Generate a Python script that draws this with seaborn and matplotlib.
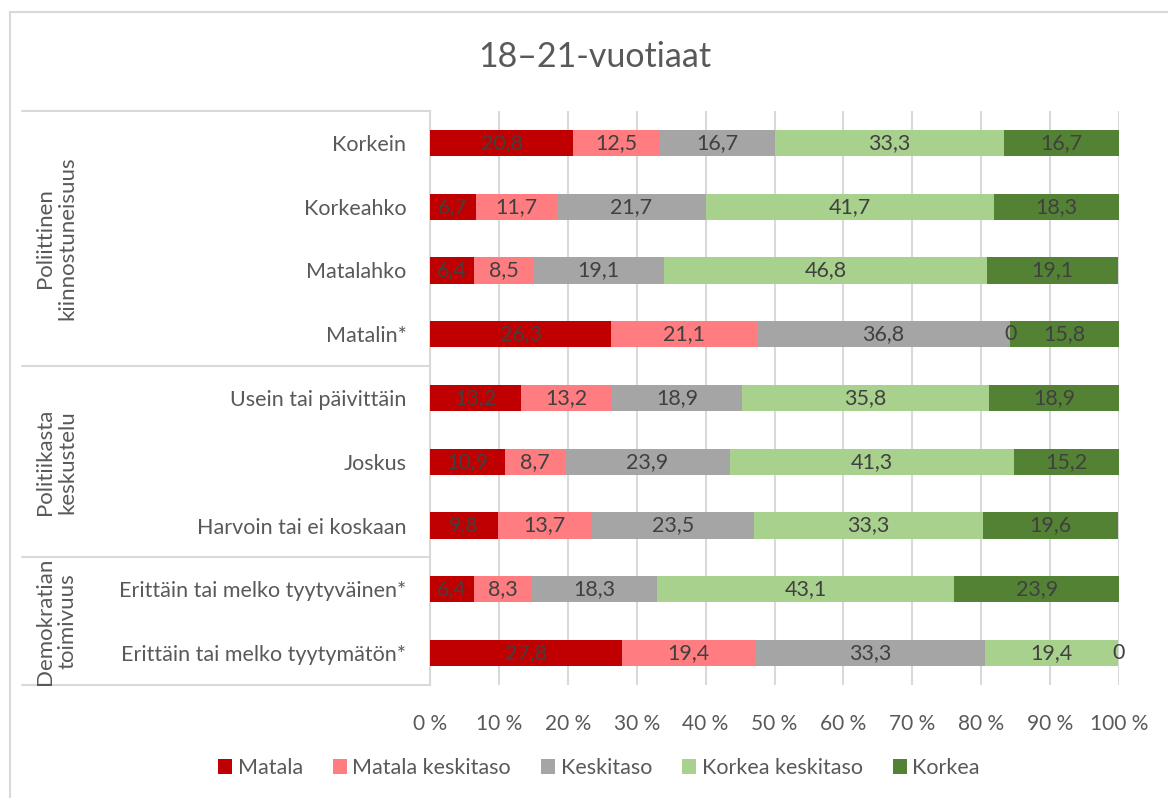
import matplotlib
matplotlib.use("Agg")
import matplotlib.pyplot as plt
from matplotlib.patches import Patch, Rectangle
import matplotlib.transforms as mtransforms
import seaborn as sns
import pandas as pd
import numpy as np

categories = [
    "Korkein", "Korkeahko", "Matalahko", "Matalin*",
    "Usein tai päivittäin", "Joskus", "Harvoin tai ei koskaan",
    "Erittäin tai melko tyytyväinen*", "Erittäin tai melko tyytymätön*",
]
series_names = ["Matala", "Matala keskitaso", "Keskitaso", "Korkea keskitaso", "Korkea"]
matala = [20.8, 6.7, 6.4, 26.3, 13.2, 10.9, 9.8, 6.4, 27.8]
matala_keskitaso = [12.5, 11.7, 8.5, 21.1, 13.2, 8.7, 13.7, 8.3, 19.4]
keskitaso = [16.7, 21.7, 19.1, 36.8, 18.9, 23.9, 23.5, 18.3, 33.3]
korkea_keskitaso = [33.3, 41.7, 46.8, 0, 35.8, 41.3, 33.3, 43.1, 19.4]
korkea = [16.7, 18.3, 19.1, 15.8, 18.9, 15.2, 19.6, 23.9, 0]
groups = ["Poliittinen\nkiinnostuneisuus", "Politiikasta\nkeskustelu", "Demokratian\ntoimivuus"]
group_sizes = [4, 3, 2]
title = "18–21-vuotiaat"
xtick_labels = ["0 %", "10 %", "20 %", "30 %", "40 %", "50 %", "60 %", "70 %", "80 %", "90 %", "100 %"]

colors = ["#C00000", "#FF7C80", "#A5A5A5", "#A9D18E", "#548235"]

sns.set_theme(style="white")
plt.rcParams["font.family"] = ["Lato", "DejaVu Sans"]

values = np.array([matala, matala_keskitaso, keskitaso, korkea_keskitaso, korkea])
cum = np.cumsum(values, axis=0)
df = pd.DataFrame({"cat": categories})
for i, name in enumerate(series_names):
    df[name] = cum[i]

W, H = 1168, 798
fig = plt.figure(figsize=(W / 100, H / 100), dpi=100)
ax = fig.add_axes([430 / W, 1 - 685 / H, (1119 - 430) / W, (685 - 111) / H])

# outer chart frame
fig.patches.append(Rectangle((10 / W, -0.1), 1.2, 1 - 12 / H + 0.1, transform=fig.transFigure,
                             fill=False, edgecolor="#d9d9d9", linewidth=1.5, zorder=0))

for i in range(len(series_names) - 1, -1, -1):
    sns.barplot(data=df, x=series_names[i], y="cat", order=categories, orient="h",
                color=colors[i], width=0.41, linewidth=0, saturation=1, ax=ax, zorder=3)

# data labels
starts = cum - values
for i in range(len(series_names)):
    for j in range(len(categories)):
        v = values[i, j]
        xc = starts[i, j] + v / 2
        lab = "0" if v == 0 else f"{v:.1f}".replace(".", ",")
        ax.text(xc, j, lab, ha="center", va="center", fontsize=15.5, color="#404040", zorder=5)

ax.set_xlim(0, 100)
ax.set_ylim(len(categories) - 0.5, -0.5)
ax.set_xticks(np.arange(0, 101, 10))
ax.set_xticklabels(xtick_labels)
ax.set_xlabel("")
ax.set_ylabel("")
ax.xaxis.grid(True, color="#d9d9d9", linewidth=1.5, zorder=0)
ax.yaxis.grid(False)
ax.set_axisbelow(True)
for s in ["top", "right", "bottom"]:
    ax.spines[s].set_visible(False)
ax.spines["left"].set_color("#d9d9d9")
ax.spines["left"].set_linewidth(1.5)
ax.tick_params(axis="x", length=0, pad=21, labelsize=15, labelcolor="#595959")
ax.tick_params(axis="y", length=0, pad=17, labelsize=15.5, labelcolor="#595959")

# group separators and labels
trans = mtransforms.blended_transform_factory(ax.transAxes, ax.transData)
x_left = (22 - 430) / (1119 - 430)
bounds = [-0.5]
for g in group_sizes:
    bounds.append(bounds[-1] + g)
for b in bounds:
    ax.plot([x_left, 0], [b, b], transform=trans, color="#d9d9d9", linewidth=1.5, clip_on=False)
xg = (56 - 430) / (1119 - 430)
for k, g in enumerate(groups):
    yc = (bounds[k] + bounds[k + 1]) / 2
    ax.text(xg, yc, g, transform=trans, rotation=90, ha="center", va="center",
            fontsize=16, color="#595959", linespacing=1.15, multialignment="center")

fig.text(595 / W, 1 - 57 / H, title, ha="center", va="center", fontsize=24.5, color="#595959")

handles = [Patch(facecolor=c, edgecolor="none") for c in colors]
fig.legend(handles, series_names, loc="center", bbox_to_anchor=(599 / W, 1 - 768 / H), ncol=5,
           frameon=False, fontsize=15.5, handlelength=0.65, handleheight=0.65, handletextpad=0.25,
           columnspacing=1.4, labelcolor="#595959")

fig.savefig("out.png", dpi=100)
